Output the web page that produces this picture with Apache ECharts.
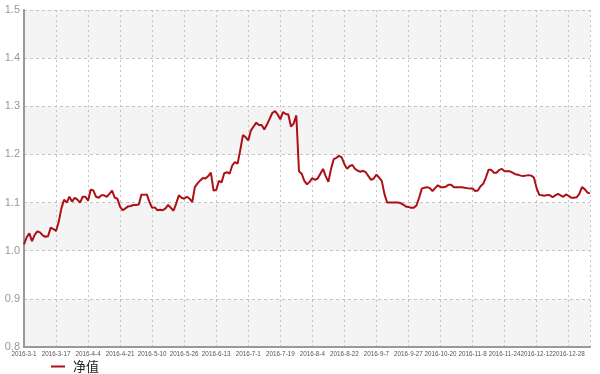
<!DOCTYPE html>
<html>
<head>
<meta charset="utf-8">
<script src="https://cdn.jsdelivr.net/npm/echarts@6/dist/echarts.min.js"></script>
<style>
html,body{margin:0;padding:0;background:#fff;}
#chart{width:600px;height:374px;}
</style>
</head>
<body>
<div id="chart"></div>
<script>
var seriesName = '净值';
var yTicks = [0.8, 0.9, 1.0, 1.1, 1.2, 1.3, 1.4, 1.5];
var dates = [
'2016-3-1','2016-3-2','2016-3-3','2016-3-4','2016-3-7','2016-3-8','2016-3-9','2016-3-10','2016-3-11','2016-3-14','2016-3-15','2016-3-16',
'2016-3-17','2016-3-18','2016-3-21','2016-3-22','2016-3-23','2016-3-24','2016-3-25','2016-3-28','2016-3-29','2016-3-30','2016-3-31','2016-4-1',
'2016-4-4','2016-4-5','2016-4-6','2016-4-7','2016-4-8','2016-4-11','2016-4-12','2016-4-13','2016-4-14','2016-4-15','2016-4-18','2016-4-19',
'2016-4-21','2016-4-22','2016-4-25','2016-4-26','2016-4-27','2016-4-28','2016-4-29','2016-5-3','2016-5-4','2016-5-5','2016-5-6','2016-5-9',
'2016-5-10','2016-5-11','2016-5-12','2016-5-13','2016-5-16','2016-5-17','2016-5-18','2016-5-19','2016-5-20','2016-5-23','2016-5-24','2016-5-25',
'2016-5-26','2016-5-27','2016-5-30','2016-5-31','2016-6-1','2016-6-2','2016-6-3','2016-6-6','2016-6-7','2016-6-8','2016-6-12','2016-6-12',
'2016-6-13','2016-6-14','2016-6-15','2016-6-16','2016-6-17','2016-6-20','2016-6-21','2016-6-22','2016-6-23','2016-6-24','2016-6-27','2016-6-29',
'2016-7-1','2016-7-4','2016-7-5','2016-7-6','2016-7-7','2016-7-8','2016-7-11','2016-7-12','2016-7-13','2016-7-14','2016-7-15','2016-7-18',
'2016-7-19','2016-7-20','2016-7-21','2016-7-22','2016-7-25','2016-7-26','2016-7-27','2016-7-28','2016-7-29','2016-8-1','2016-8-2','2016-8-3',
'2016-8-4','2016-8-5','2016-8-8','2016-8-9','2016-8-10','2016-8-11','2016-8-12','2016-8-15','2016-8-16','2016-8-17','2016-8-18','2016-8-19',
'2016-8-22','2016-8-23','2016-8-24','2016-8-25','2016-8-26','2016-8-29','2016-8-30','2016-8-31','2016-9-1','2016-9-2','2016-9-5','2016-9-6',
'2016-9-7','2016-9-8','2016-9-9','2016-9-12','2016-9-13','2016-9-14','2016-9-19','2016-9-20','2016-9-21','2016-9-22','2016-9-23','2016-9-26',
'2016-9-27','2016-9-28','2016-9-29','2016-9-30','2016-10-10','2016-10-11','2016-10-12','2016-10-13','2016-10-14','2016-10-17','2016-10-18','2016-10-19',
'2016-10-20','2016-10-21','2016-10-24','2016-10-25','2016-10-26','2016-10-27','2016-10-28','2016-10-31','2016-11-1','2016-11-2','2016-11-3','2016-11-4',
'2016-11-8','2016-11-9','2016-11-10','2016-11-11','2016-11-14','2016-11-15','2016-11-16','2016-11-17','2016-11-18','2016-11-21','2016-11-22','2016-11-23',
'2016-11-24','2016-11-25','2016-11-28','2016-11-29','2016-11-30','2016-12-1','2016-12-2','2016-12-5','2016-12-6','2016-12-7','2016-12-8','2016-12-9',
'2016-12-12','2016-12-13','2016-12-14','2016-12-15','2016-12-16','2016-12-19','2016-12-20','2016-12-21','2016-12-22','2016-12-23','2016-12-26','2016-12-27',
'2016-12-28','2016-12-29','2016-12-30','2017-1-3','2017-1-4','2017-1-5','2017-1-6','2017-1-9','2017-1-10'
];
var navValues = [
1.013,1.028,1.036,1.020,1.033,1.040,1.038,1.032,1.029,1.030,1.048,1.045,
1.041,1.060,1.088,1.106,1.100,1.112,1.102,1.110,1.106,1.100,1.112,1.112,
1.104,1.127,1.125,1.112,1.110,1.115,1.115,1.112,1.118,1.125,1.110,1.108,
1.091,1.084,1.088,1.092,1.093,1.095,1.095,1.096,1.117,1.116,1.117,1.101,
1.089,1.090,1.084,1.085,1.084,1.088,1.095,1.089,1.083,1.098,1.115,1.110,
1.108,1.112,1.108,1.101,1.132,1.140,1.146,1.151,1.150,1.155,1.162,1.125,
1.126,1.145,1.142,1.161,1.163,1.160,1.177,1.184,1.181,1.209,1.240,1.236,
1.229,1.250,1.258,1.266,1.261,1.261,1.252,1.262,1.274,1.286,1.290,1.283,
1.273,1.288,1.284,1.283,1.258,1.264,1.281,1.165,1.160,1.145,1.138,1.143,
1.151,1.147,1.150,1.160,1.170,1.155,1.143,1.170,1.190,1.193,1.197,1.194,
1.180,1.170,1.176,1.178,1.170,1.166,1.164,1.166,1.163,1.155,1.147,1.150,
1.158,1.152,1.145,1.118,1.100,1.100,1.100,1.100,1.100,1.099,1.096,1.092,
1.091,1.089,1.089,1.094,1.110,1.129,1.131,1.132,1.130,1.124,1.130,1.136,
1.132,1.132,1.133,1.137,1.137,1.132,1.132,1.132,1.132,1.131,1.130,1.129,
1.129,1.124,1.125,1.134,1.139,1.152,1.168,1.168,1.162,1.162,1.168,1.170,
1.165,1.165,1.165,1.162,1.159,1.158,1.156,1.155,1.156,1.157,1.156,1.152,
1.130,1.116,1.115,1.114,1.116,1.115,1.111,1.115,1.118,1.115,1.112,1.117,
1.114,1.110,1.110,1.111,1.118,1.132,1.128,1.121,1.119
];

var chart = echarts.init(document.getElementById('chart'), null, {renderer:'canvas'});
var lastIdx = dates.length - 1;
chart.setOption({
  animation: false,
  textStyle: {fontFamily: 'Liberation Sans, Arial, sans-serif'},
  grid: {left: 24, right: 10, top: 10, bottom: 27, containLabel: false},
  legend: {
    data: [seriesName],
    left: 46, top: 355,
    icon: 'rect', itemWidth: 14, itemHeight: 2, itemGap: 10,
    textStyle: {fontSize: 13, color: '#222', fontFamily: 'Noto Sans CJK SC', padding: [0, 0, 0, 3]}
  },
  xAxis: {
    type: 'category',
    data: dates,
    boundaryGap: false,
    axisLine: {lineStyle: {color: '#999', width: 2}},
    axisTick: {show: false},
    axisLabel: {interval: function(i){ return i % 12 === 0; }, fontSize: 6.3, color: '#555', margin: 4, hideOverlap: false},
    splitLine: {show: true, interval: function(i){ return i % 12 === 0 || i === lastIdx; }, lineStyle: {color: '#c4c4c4', type: [2, 3], width: 1}}
  },
  yAxis: {
    type: 'value',
    min: yTicks[0], max: yTicks[yTicks.length - 1], interval: 0.1,
    axisLine: {show: true, lineStyle: {color: '#999', width: 2}},
    axisTick: {show: false},
    axisLabel: {fontSize: 11, color: '#999', margin: 4, formatter: function(v){ return v.toFixed(1); }},
    splitLine: {show: true, lineStyle: {color: '#c4c4c4', type: [3, 3], width: 1}},
    splitArea: {show: true, areaStyle: {color: ['#f4f4f4', '#ffffff']}}
  },
  series: [{
    name: seriesName,
    type: 'line',
    data: navValues,
    showSymbol: false,
    symbol: 'none',
    lineStyle: {color: '#ad0f17', width: 2},
    itemStyle: {color: '#ad0f17'}
  }]
});
</script>
</body>
</html>
